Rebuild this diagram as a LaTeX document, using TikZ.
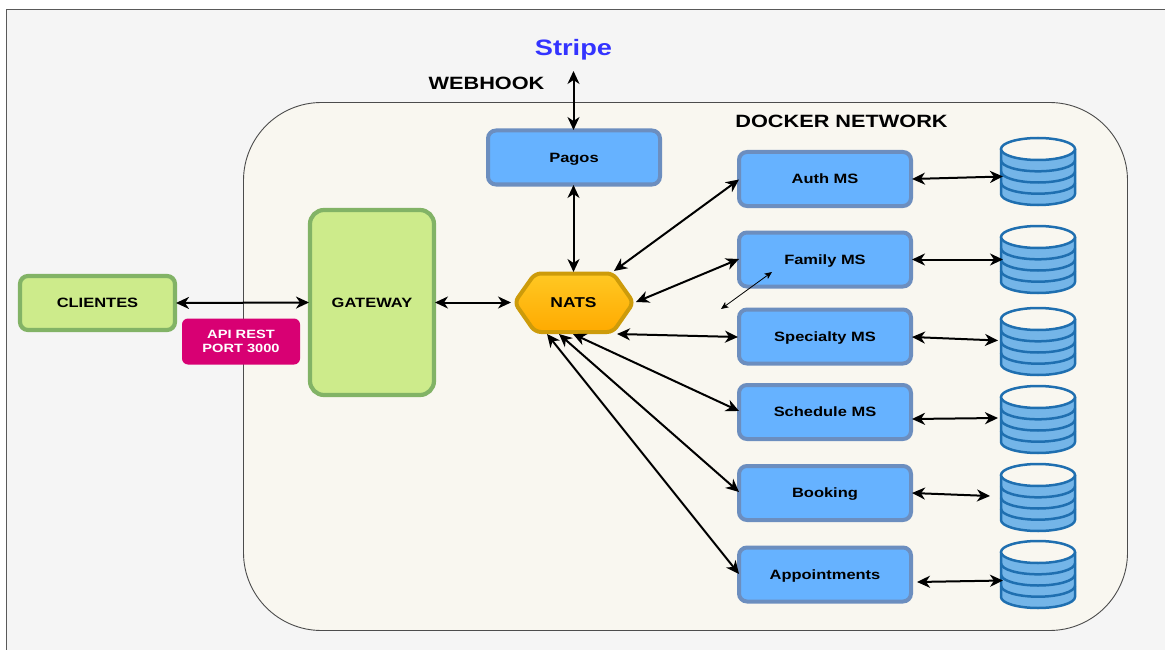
\documentclass[tikz,border=0pt]{standalone}
\usepackage{fontspec}
\setmainfont{Liberation Sans}[FakeStretch=1.22]
\usetikzlibrary{arrows.meta}
\definecolor{panel}{HTML}{F5F5F5}
\definecolor{netfill}{HTML}{F9F7F0}
\definecolor{bluefill}{HTML}{66B2FF}
\definecolor{blueline}{HTML}{6C8EBF}
\definecolor{greenfill}{HTML}{CDEB8B}
\definecolor{greenline}{HTML}{82B366}
\definecolor{dbfill}{HTML}{74B5E8}
\definecolor{dbline}{HTML}{1F6FB0}
\definecolor{pink}{HTML}{D80073}
\tikzset{
  x=1pt,y=-1pt,
  ms/.style={draw=blueline,fill=bluefill,line width=4pt,rounded corners=8pt,minimum width=172pt,minimum height=54pt,inner sep=0pt,text height=9.5pt,text depth=0pt,font=\bfseries\fontsize{13.5}{15}\selectfont,text=black},
  greenbox/.style={draw=greenline,fill=greenfill,line width=4.2pt,inner sep=0pt,text height=9.5pt,text depth=0pt,font=\bfseries\fontsize{13.5}{15}\selectfont,text=black},
  title/.style={inner sep=0pt,font=\bfseries\fontsize{17.8}{19}\selectfont,text=black},
  both/.style={{Stealth[length=13pt,width=12pt,inset=4pt]}-{Stealth[length=13pt,width=12pt,inset=4pt]},line width=2pt,black},
  thin both/.style={{Stealth[length=7.5pt,width=6.5pt,inset=2pt]}-{Stealth[length=7.5pt,width=6.5pt,inset=2pt]},line width=.8pt,black},
  pics/dbstack/.style={code={
    \draw[dbline,fill=dbfill,line width=2.5pt] (-37,-22.5) -- (-37,22.5) arc[start angle=180,end angle=360,x radius=37,y radius=-11] -- (37,-22.5);
    \foreach \d in {-11.2,0,11.2}
      \draw[dbline,line width=2.5pt] (-37,\d) arc[start angle=180,end angle=360,x radius=37,y radius=-11];
    \draw[dbline,fill=netfill,line width=2.5pt] (0,-22.5) ellipse[x radius=37,y radius=11];
  }}
}
\begin{document}
\begin{tikzpicture}
\useasboundingbox (0,0) rectangle (1165,650);
\fill[white] (0,0) rectangle (1165,650);
\path[fill=panel,draw=black!65,line width=.9pt] (1166,9) -- (6.5,9) -- (6.5,651) -- (1166,651);
\draw[fill=netfill,draw=black!70,line width=.9pt,rounded corners=78pt] (243.5,102.5) rectangle (1127.5,630.5);

\node[inner sep=0pt,font=\bfseries\fontsize{22.3}{24}\selectfont,text={rgb,255:red,51;green,51;blue,255}] (stripe) at (573.5,49.5) {Stripe};
\node[title] (webhook) at (486.5,83.5) {WEBHOOK};
\node[title] (docker) at (841.5,121) {DOCKER NETWORK};

\node[greenbox,rounded corners=8pt,minimum width=155pt,minimum height=54pt] (clientes) at (97.5,303) {CLIENTES};
\node[greenbox,rounded corners=14pt,minimum width=124pt,minimum height=185pt] (gateway) at (372,302.5) {GATEWAY};
\node[fill=pink,rounded corners=6pt,minimum width=118pt,minimum height=46pt,inner sep=0pt,align=center,text=white,font=\bfseries\fontsize{12}{13.5}\selectfont] (api) at (241,341.5) {API REST\\PORT 3000};

\draw[rounded corners=6pt,draw={rgb,255:red,205;green,155;blue,10},line width=4pt,top color={rgb,255:red,255;green,200;blue,35},bottom color={rgb,255:red,255;green,170;blue,0}]
  (514.5,302.5) -- (535,273.5) -- (613,273.5) -- (633.5,302.5) -- (613,332) -- (535,332) -- cycle;
\node[inner sep=0pt,text height=10pt,text depth=0pt,font=\bfseries\fontsize{14.3}{15}\selectfont,text=black] (nats) at (573.5,302) {NATS};

\node[ms] (pagos) at (574,157.5) {Pagos};
\node[ms] (auth) at (825,179) {Auth MS};
\node[ms] (family) at (825,259.5) {Family MS};
\node[ms] (specialty) at (825,336.5) {Specialty MS};
\node[ms] (schedule) at (825,412) {Schedule MS};
\node[ms] (booking) at (825,493) {Booking};
\node[ms] (appointments) at (825,574.5) {Appointments};

\path (1038,171.5) pic {dbstack} coordinate (db1);
\path (1038,259.5) pic {dbstack} coordinate (db2);
\path (1038,341.5) pic {dbstack} coordinate (db3);
\path (1038,419.5) pic {dbstack} coordinate (db4);
\path (1038,497.5) pic {dbstack} coordinate (db5);
\path (1038,574.5) pic {dbstack} coordinate (db6);

% free ends
\coordinate (stripeEnd) at (573.5,71);
\coordinate (pagosTop) at (573.5,130);
\coordinate (pagosBot) at (573.5,185);
\coordinate (natsTop) at (573.5,272);
\coordinate (n1) at (614,271);
\coordinate (n2) at (636,302);
\coordinate (n3) at (617,334);
\coordinate (n4) at (573,334);
\coordinate (n5) at (559,334);
\coordinate (n6) at (547,334);
\coordinate (natsW) at (511,302.5);
\coordinate (gwE) at (435,302.5);
\coordinate (gwW) at (309,302.5);
\coordinate (cliE) at (176,303);
\coordinate (a1) at (739,179.5);
\coordinate (a2) at (739,259);
\coordinate (a3) at (738,337);
\coordinate (a4) at (739,411);
\coordinate (a5) at (739,492);
\coordinate (a6) at (739,574);
\coordinate (e1) at (912,179);
\coordinate (e2) at (912,259.5);
\coordinate (e3) at (912,337);
\coordinate (e4) at (912,419);
\coordinate (e5) at (912,493);
\coordinate (e6) at (917,582);
\coordinate (d1) at (1003,176.5);
\coordinate (d2) at (1003,259.5);
\coordinate (d3) at (998,340.5);
\coordinate (d4) at (998,418);
\coordinate (d5) at (990,496);
\coordinate (d6) at (1003,580.5);
\coordinate (s1) at (721,309);
\coordinate (s2) at (772,272);

\draw[both] (stripeEnd) -- (pagosTop);
\draw[both] (pagosBot) -- (natsTop);
\draw[both] (cliE) -- (gwW);
\draw[both] (gwE) -- (natsW);
\draw[both] (n1) -- (a1);
\draw[both] (n2) -- (a2);
\draw[both] (n3) -- (a3);
\draw[both] (n4) -- (a4);
\draw[both] (n5) -- (a5);
\draw[both] (n6) -- (a6);
\draw[both] (e1) -- (d1);
\draw[both] (e2) -- (d2);
\draw[both] (e3) -- (d3);
\draw[both] (e4) -- (d4);
\draw[both] (e5) -- (d5);
\draw[both] (e6) -- (d6);
\draw[thin both] (s1) -- (s2);
\end{tikzpicture}
\end{document}
